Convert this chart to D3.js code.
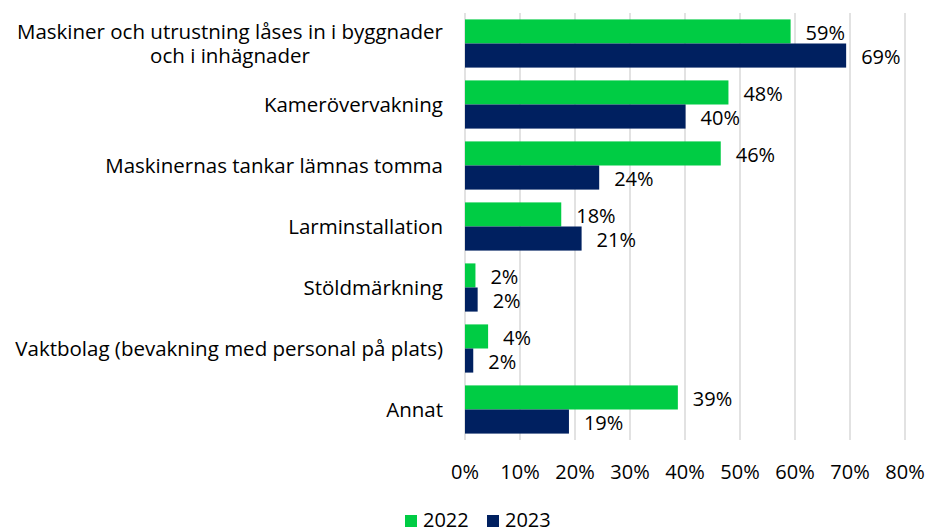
<!DOCTYPE html>
<html>
<head>
<meta charset="utf-8">
<script src="https://cdn.jsdelivr.net/npm/d3@7"></script>
<style>
  body { margin: 0; background: #fff; }
  svg text { font-family: "Open Sans", Lato, sans-serif; fill: #000; font-variant-ligatures: none; }
</style>
</head>
<body>
<div id="chart"></div>
<script>
// categories, top to bottom (first one wraps on two lines)
var categories = [
    ["Maskiner och utrustning låses in i byggnader", "och i inhägnader"],
    ["Kamerövervakning"],
    ["Maskinernas tankar lämnas tomma"],
    ["Larminstallation"],
    ["Stöldmärkning"],
    ["Vaktbolag (bevakning med personal på plats)"],
    ["Annat"]
];
var series = ["2022", "2023"];
var values2022 = [59.2, 47.9, 46.5, 17.5, 1.9, 4.2, 38.7];
var values2023 = [69.3, 40.1, 24.4, 21.2, 2.3, 1.5, 18.9];
var labels2022 = ["59%", "48%", "46%", "18%", "2%", "4%", "39%"];
var labels2023 = ["69%", "40%", "24%", "21%", "2%", "2%", "19%"];
var ticks = [0, 10, 20, 30, 40, 50, 60, 70, 80];
var colors = ["#00cc44", "#002060"];

var width = 927, height = 531, fs = 20, catFs = 20.5;

var svg = d3.select("#chart").append("svg")
    .attr("width", width)
    .attr("height", height);

var x = d3.scaleLinear().domain([0, 80]).range([465, 905]);
var y = d3.scaleBand().domain(d3.range(categories.length))
    .range([13, 440]).paddingInner(0.21).paddingOuter(0.105);
var ys = d3.scaleBand().domain(series).range([0, y.bandwidth()]);

// gridlines
svg.append("g").selectAll("line").data(ticks).enter().append("line")
    .attr("x1", function(d) { return x(d); })
    .attr("x2", function(d) { return x(d); })
    .attr("y1", 13).attr("y2", 440)
    .attr("stroke", "#d9d9d9").attr("stroke-width", 1.5);

// tick labels
svg.append("g").selectAll("text").data(ticks).enter().append("text")
    .attr("x", function(d) { return x(d); })
    .attr("y", 479)
    .attr("text-anchor", "middle")
    .style("font-size", fs + "px")
    .text(function(d) { return d + "%"; });

var rows = categories.map(function(c, i) {
    return [
	{ s: "2022", v: values2022[i], lab: labels2022[i], i: i },
	{ s: "2023", v: values2023[i], lab: labels2023[i], i: i }
    ];
});

var group = svg.append("g").selectAll("g").data(rows).enter().append("g")
    .attr("transform", function(d, i) { return "translate(0," + y(i) + ")"; });

group.selectAll("rect").data(function(d) { return d; }).enter().append("rect")
    .attr("x", x(0))
    .attr("y", function(d) { return ys(d.s); })
    .attr("width", function(d) { return x(d.v) - x(0); })
    .attr("height", ys.bandwidth())
    .attr("fill", function(d) { return colors[series.indexOf(d.s)]; });

group.selectAll("text").data(function(d) { return d; }).enter().append("text")
    .attr("x", function(d) { return x(d.v) + 15; })
    .attr("y", function(d) { return ys(d.s) + ys.bandwidth() / 2 + fs * 0.36 + 1; })
    .style("font-size", fs + "px")
    .text(function(d) { return d.lab; });

// category labels, right aligned; extra lines centred under the first
var catG = svg.append("g");
categories.forEach(function(lines, i) {
    var cy = y(i) + y.bandwidth() / 2;
    var lh = 24;
    var top = cy - (lines.length - 1) * lh / 2;
    var first = catG.append("text")
	.attr("x", 443)
	.attr("y", top + catFs * 0.36)
	.attr("text-anchor", "end")
	.style("font-size", catFs + "px")
	.text(lines[0]);
    var w = first.node().getComputedTextLength();
    for (var k = 1; k < lines.length; k++) {
	catG.append("text")
	    .attr("x", 443 - w / 2)
	    .attr("y", top + k * lh + catFs * 0.36)
	    .attr("text-anchor", "middle")
	    .style("font-size", catFs + "px")
	    .text(lines[k]);
    }
});

// legend
var legend = svg.append("g").selectAll("g").data(series).enter().append("g")
    .attr("transform", function(d, i) { return "translate(" + (405 + i * 82) + ",0)"; });
legend.append("rect")
    .attr("y", 515).attr("width", 12).attr("height", 12)
    .attr("fill", function(d, i) { return colors[i]; });
legend.append("text")
    .attr("x", 18).attr("y", 527)
    .style("font-size", fs + "px")
    .text(function(d) { return d; });
</script>
</body>
</html>
